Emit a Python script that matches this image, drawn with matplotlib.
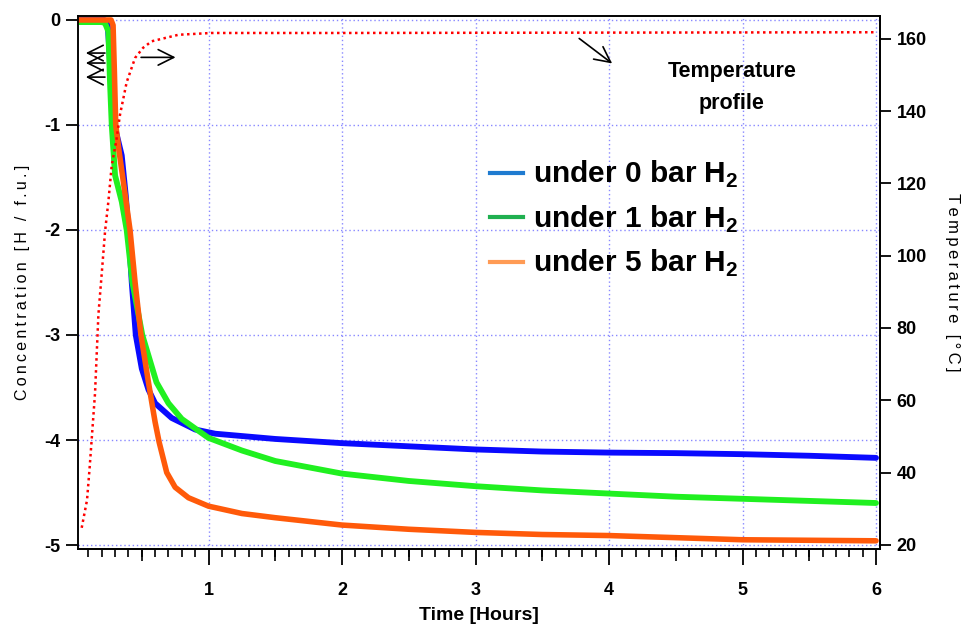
import numpy as np
import matplotlib.pyplot as plt
from matplotlib.lines import Line2D
from matplotlib.ticker import MultipleLocator

plt.rcParams['font.family'] = ['Liberation Sans', 'DejaVu Sans']
plt.rcParams['mathtext.fontset'] = 'custom'
plt.rcParams['mathtext.rm'] = 'Liberation Sans'
plt.rcParams['mathtext.bf'] = 'Liberation Sans:bold'
plt.rcParams['axes.unicode_minus'] = False

NARROW = ['Liberation Sans Narrow', 'Liberation Sans', 'DejaVu Sans']

# concentration [H / f.u.] vs time [h]
t_0bar = [0.02, 0.22, 0.245, 0.26, 0.275, 0.295, 0.35, 0.38, 0.40, 0.425, 0.455, 0.50,
          0.55, 0.60, 0.724, 0.90, 1.05, 1.5, 2.0, 2.5, 3.0, 3.5, 4.0, 4.5, 5.0, 5.5, 6.0]
c_0bar = [0.0, 0.0, -0.05, -0.35, -0.7, -1.0, -1.29, -1.67, -2.0, -2.5, -3.0, -3.32,
          -3.52, -3.65, -3.79, -3.90, -3.94, -3.99, -4.03, -4.06, -4.09, -4.11, -4.12,
          -4.125, -4.135, -4.15, -4.17]

t_1bar = [0.02, 0.20, 0.225, 0.25, 0.262, 0.275, 0.30, 0.35, 0.387, 0.43, 0.504, 0.61,
          0.70, 0.80, 1.0, 1.25, 1.5, 2.0, 2.5, 3.0, 3.5, 4.0, 4.5, 5.0, 5.5, 6.0]
c_1bar = [-0.02, -0.02, -0.03, -0.11, -0.59, -1.0, -1.48, -1.73, -2.0, -2.5, -3.0, -3.45,
          -3.65, -3.80, -3.98, -4.10, -4.20, -4.32, -4.39, -4.44, -4.48, -4.51, -4.54,
          -4.56, -4.58, -4.60]

t_5bar = [0.02, 0.27, 0.285, 0.295, 0.305, 0.33, 0.362, 0.412, 0.45, 0.494, 0.55, 0.58,
          0.60, 0.63, 0.687, 0.75, 0.85, 1.0, 1.25, 1.5, 2.0, 2.5, 3.0, 3.5, 4.0, 4.5,
          5.0, 5.5, 6.0]
c_5bar = [0.0, 0.0, -0.05, -0.5, -1.0, -1.25, -1.54, -2.0, -2.5, -3.0, -3.45, -3.68,
          -3.83, -4.02, -4.31, -4.45, -4.55, -4.63, -4.70, -4.74, -4.81, -4.85, -4.88,
          -4.90, -4.91, -4.93, -4.95, -4.955, -4.96]

# temperature profile [deg C]
t_temp = [0.05, 0.09, 0.11, 0.15, 0.175, 0.20, 0.225, 0.25, 0.275, 0.31, 0.337, 0.387,
          0.45, 0.51, 0.574, 0.774, 1.02, 2.0, 4.0, 6.0]
temp = [24.7, 32.4, 41.6, 62.0, 83.6, 95.0, 106.7, 115.0, 125.0, 132.0, 139.0, 148.0,
        154.7, 157.5, 159.3, 161.1, 161.6, 161.6, 161.7, 161.8]

labels = [r'under 0 bar H$_\mathbf{2}$', r'under 1 bar H$_\mathbf{2}$',
          r'under 5 bar H$_\mathbf{2}$']

fig = plt.figure(figsize=(9.66, 6.27), dpi=100)
ax = fig.add_axes([0.0807, 0.1244, 0.8303, 0.8501])
ax2 = ax.twinx()

ax.plot(t_0bar, c_0bar, color='#0a0aff', lw=4.2, solid_capstyle='round',
        solid_joinstyle='round', zorder=3)
ax.plot(t_1bar, c_1bar, color='#20f020', lw=4.2, solid_capstyle='round',
        solid_joinstyle='round', zorder=4)
ax.plot(t_5bar, c_5bar, color='#ff5a0a', lw=4.0, solid_capstyle='round',
        solid_joinstyle='round', zorder=5)
ax2.plot(t_temp, temp, color='red', lw=1.8, linestyle=(0, (1, 1.4)))

ax.set_xlim(0.022, 6.03)
ax.set_ylim(-5.038, 0.038)
ax2.set_ylim(18.84, 166.3)

ax.xaxis.set_major_locator(MultipleLocator(1))
ax.xaxis.set_minor_locator(MultipleLocator(0.1))
ax.yaxis.set_major_locator(MultipleLocator(1))
ax2.yaxis.set_major_locator(MultipleLocator(20))

ax.grid(True, which='major', color='#8888ff', linestyle=(0, (1, 2)), lw=1.0)
ax.set_axisbelow(True)

ax.tick_params(axis='x', which='major', direction='out', length=11.5, width=1.3,
               labelsize=13, pad=12)
ax.tick_params(axis='x', which='minor', direction='out', length=5.5, width=1.2)
ax.tick_params(axis='y', which='major', direction='out', length=9, width=1.3,
               labelsize=13, pad=4)
ax2.tick_params(axis='y', direction='out', length=8, width=1.3, labelsize=13, pad=4)
for lab in ax.get_xticklabels() + ax.get_yticklabels() + ax2.get_yticklabels():
    lab.set_family(NARROW)
    lab.set_fontweight('bold')

# half-hour ticks, a bit longer than the minor ones
sec = ax.secondary_xaxis('bottom')
sec.set_xticks([0.5, 1.5, 2.5, 3.5, 4.5, 5.5])
sec.tick_params(direction='out', length=8.5, width=1.2, labelbottom=False)
sec.spines['bottom'].set_visible(False)

for sp in ['left', 'right', 'top', 'bottom']:
    ax.spines[sp].set_linewidth(1.3)
    ax2.spines[sp].set_linewidth(1.3)
ax.spines['left'].set_color('#666666')
ax.spines['top'].set_color('#444444')

ax.set_xlabel('Time [Hours]', family=NARROW, fontweight='bold', fontsize=14, labelpad=6)
ax.set_ylabel('\u2009'.join('Concentration [H / f.u.]'), fontsize=11.5, labelpad=10)
ax2.set_ylabel('\u2009'.join('Temperature [°C]'), fontsize=12, rotation=270,
               labelpad=24)

handles = [Line2D([], [], color=c, lw=3) for c in ['#1f7bd0', '#20b050', '#ff9b55']]
ax.legend(handles, labels, loc='upper left', bbox_to_anchor=(0.48, 0.782),
          frameon=False, prop={'weight': 'bold', 'size': 21.5}, handlelength=1.1,
          handletextpad=0.35, labelspacing=0.45)

ax2.text(4.92, 146.5, 'Temperature\nprofile', ha='center', va='center',
         fontsize=15.5, fontweight='bold', linespacing=1.65)

arrow = dict(arrowstyle='->', color='black', lw=1.2, mutation_scale=28)
for y in [-0.315, -0.41, -0.544]:
    ax.annotate('', xy=(0.06, y), xytext=(0.245, y), arrowprops=arrow)
ax.annotate('', xy=(0.774, -0.356), xytext=(0.474, -0.356), arrowprops=arrow)
ax.annotate('', xy=(4.04, -0.43), xytext=(3.76, -0.16), arrowprops=arrow)

fig.savefig('out.png', dpi=100)
